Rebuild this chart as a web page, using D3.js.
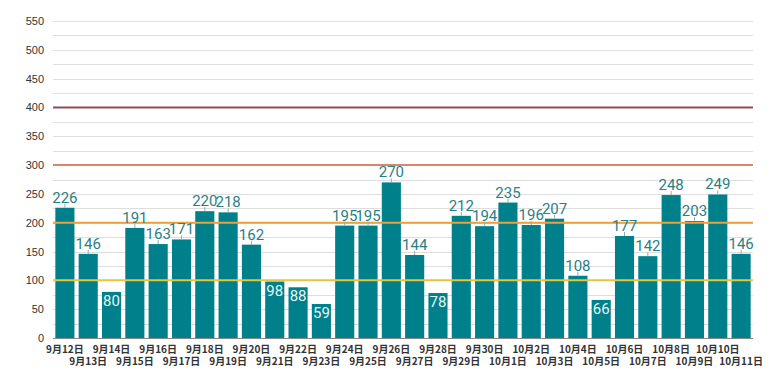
<!DOCTYPE html>
<html>
<head>
<meta charset="utf-8">
<script src="https://cdn.jsdelivr.net/npm/d3@7"></script>
<style>
  body { margin: 0; background: #fff; }
  svg { display: block; }
</style>
</head>
<body>
<svg id="chart" width="780" height="390"></svg>
<script>
// daily counts, 9/12 .. 10/11
const days = ["9月12日","9月13日","9月14日","9月15日","9月16日","9月17日","9月18日","9月19日","9月20日","9月21日",
  "9月22日","9月23日","9月24日","9月25日","9月26日","9月27日","9月28日","9月29日","9月30日","10月1日",
  "10月2日","10月3日","10月4日","10月5日","10月6日","10月7日","10月8日","10月9日","10月10日","10月11日"];
const counts = [226,146,80,191,163,171,220,218,162,98,88,59,195,195,270,144,78,212,194,235,196,207,108,66,177,142,248,203,249,146];
const yTicks = [0,50,100,150,200,250,300,350,400,450,500,550];
const levels = [100,200,300,400];
const levelColors = ["#e6c63c","#eea03a","#d88668","#8c4c58"];

const svg = d3.select("#chart");
const plotL = 53, plotR = 753, plotT = 21, plotB = 338;

const x = d3.scaleBand().domain(days).range([plotL, plotR]).paddingInner(0.18).paddingOuter(0.1);
const y = d3.scaleLinear().domain([0, 550]).range([plotB, plotT]);

// grid every 25
svg.append("g")
  .selectAll("line")
  .data(d3.range(25, 551, 25))
  .join("line")
  .attr("x1", plotL).attr("x2", plotR)
  .attr("y1", d => Math.round(y(d)) + 0.5).attr("y2", d => Math.round(y(d)) + 0.5)
  .attr("stroke", "#dedede").attr("stroke-width", 1);

// y labels
svg.append("g")
  .selectAll("text")
  .data(yTicks)
  .join("text")
  .attr("x", 44).attr("y", d => y(d) + 4)
  .attr("text-anchor", "end")
  .style("font", "11px 'Liberation Sans', Arial, sans-serif")
  .attr("fill", "#333")
  .text(d => d);

// bars
svg.append("g")
  .selectAll("rect")
  .data(counts)
  .join("rect")
  .attr("x", (d, i) => x(days[i]))
  .attr("y", d => y(d))
  .attr("width", x.bandwidth())
  .attr("height", d => plotB - y(d))
  .attr("fill", "#00808a");

// threshold lines over bars
svg.append("g")
  .selectAll("line")
  .data(levels)
  .join("line")
  .attr("x1", plotL).attr("x2", plotR)
  .attr("y1", d => y(d)).attr("y2", d => y(d))
  .attr("stroke", (d, i) => levelColors[i]).attr("stroke-width", 2);

// baseline
svg.append("line")
  .attr("x1", plotL).attr("x2", plotR)
  .attr("y1", plotB + 0.5).attr("y2", plotB + 0.5)
  .attr("stroke", "#888").attr("stroke-width", 1);

// value labels
const inside = d => d < 100;
const lab = svg.append("g").selectAll("g")
  .data(counts)
  .join("g")
  .attr("transform", (d, i) => `translate(${x(days[i]) + x.bandwidth() / 2},${y(d)})`);

lab.filter(d => !inside(d)).append("line")
  .attr("y1", 0).attr("y2", -4)
  .attr("stroke", "#9aa").attr("stroke-width", 1);

lab.append("text")
  .attr("y", d => inside(d) ? 14 : -5)
  .attr("text-anchor", "middle")
  .style("font", "15px Roboto, sans-serif")
  .attr("fill", d => inside(d) ? "#e4f6f6" : "#2a7f86")
  .text(d => d);

// x labels, two staggered rows
svg.append("g")
  .selectAll("text")
  .data(days)
  .join("text")
  .attr("x", d => x(d) + x.bandwidth() / 2)
  .attr("y", (d, i) => i % 2 === 0 ? 353 : 365)
  .attr("text-anchor", "middle")
  .style("font", "bold 10px 'Noto Sans CJK JP', sans-serif")
  .attr("fill", "#333")
  .text(d => d);
</script>
</body>
</html>
